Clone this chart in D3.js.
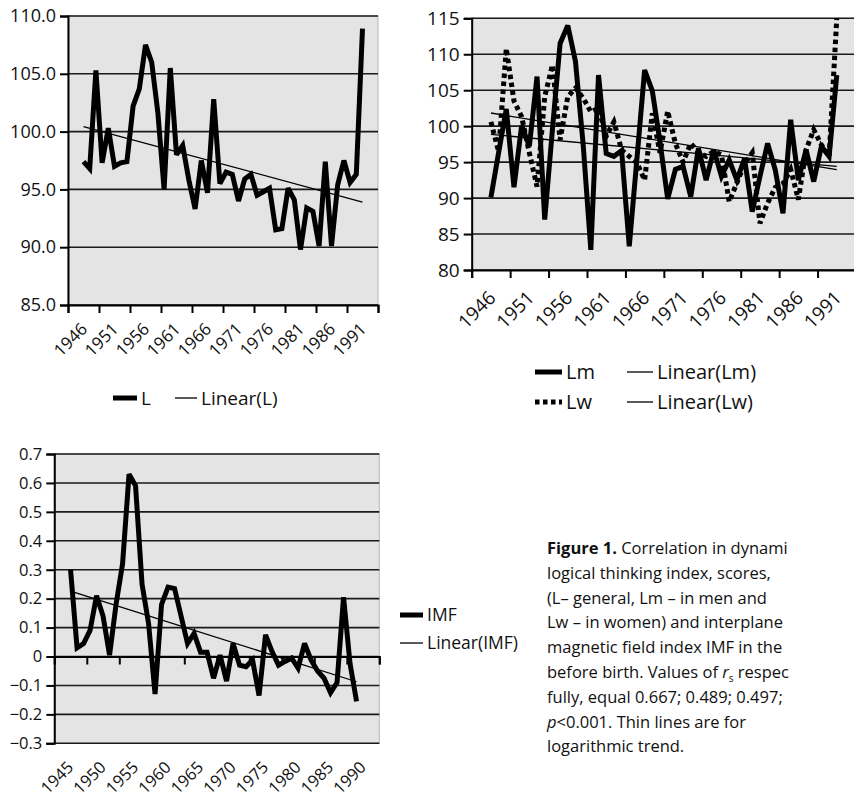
<!DOCTYPE html>
<html>
<head>
<meta charset="utf-8">
<script src="https://cdn.jsdelivr.net/npm/d3@7"></script>
<style>
  body { margin: 0; background: #fff; }
  svg { font-family: "Open Sans", "Noto Sans", sans-serif; }
</style>
</head>
<body>
<div id="fig"></div>
<script>
// years 1946..1991 for L, Lm, Lw
var yearsL = [1946,1947,1948,1949,1950,1951,1952,1953,1954,1955,1956,1957,1958,1959,1960,
  1961,1962,1963,1964,1965,1966,1967,1968,1969,1970,1971,1972,1973,1974,1975,1976,1977,
  1978,1979,1980,1981,1982,1983,1984,1985,1986,1987,1988,1989,1990,1991];

var valuesL = [97.4,96.8,105.3,97.3,100.3,97.0,97.3,97.4,102.2,103.7,107.5,106.0,101.6,95.0,105.5,
  98.0,98.8,95.8,93.3,97.5,94.7,102.8,95.5,96.5,96.3,94.0,95.9,96.3,94.5,94.8,95.1,91.5,
  91.6,95.1,94.1,89.8,93.4,93.1,90.1,97.4,90.1,95.4,97.5,95.6,96.3,108.9];

var valuesLm = [90.1,96.3,102.4,91.5,100.1,97.2,106.9,87.0,99.5,111.5,114.0,109.0,97.5,82.8,107.1,
  96.2,95.8,96.6,83.3,95.5,107.8,104.9,97.8,89.9,94.0,94.4,90.2,96.9,92.5,96.7,93.0,95.3,
  92.5,95.5,88.1,93.0,97.6,93.9,87.9,100.9,92.5,96.7,92.3,97.2,95.8,107.1];

var valuesLw = [100.6,96.5,110.8,103.5,101.3,96.3,91.6,104.1,108.5,98.1,104.1,105.3,103.9,102.0,102.5,
  98.6,100.6,96.7,95.8,94.9,92.5,101.8,96.3,102.1,97.6,95.0,97.6,96.3,95.8,96.5,96.0,89.5,
  92.1,94.8,96.3,86.5,89.3,91.5,92.0,94.0,89.8,96.7,99.5,97.4,95.8,115.0];

// years 1945..1989 for IMF
var yearsIMF = [1945,1946,1947,1948,1949,1950,1951,1952,1953,1954,1955,1956,1957,1958,1959,
  1960,1961,1962,1963,1964,1965,1966,1967,1968,1969,1970,1971,1972,1973,1974,1975,1976,
  1977,1978,1979,1980,1981,1982,1983,1984,1985,1986,1987,1988,1989];

var valuesIMF = [0.30,0.03,0.045,0.09,0.21,0.14,0.005,0.18,0.32,0.63,0.59,0.25,0.115,-0.13,0.18,
  0.24,0.235,0.14,0.045,0.08,0.015,0.015,-0.075,0.005,-0.085,0.045,-0.03,-0.035,-0.012,-0.135,
  0.075,0.017,-0.03,-0.017,-0.005,-0.04,0.045,-0.012,-0.05,-0.075,-0.125,-0.09,0.205,-0.025,-0.155];

var labels12 = ["1946","1951","1956","1961","1966","1971","1976","1981","1986","1991"];
var labels3 = ["1945","1950","1955","1960","1965","1970","1975","1980","1985","1990"];

var captionLines = [
  "Correlation in dynami",
  "logical thinking index, scores,",
  "(L\u2013 general, Lm \u2013 in men and",
  "Lw \u2013 in women) and interplane",
  "magnetic field index IMF in the",
  "before birth. Values of ",
  "fully, equal 0.667; 0.489; 0.497;",
  "<0.001. Thin lines are for",
  "logarithmic trend."
];

var svg = d3.select("#fig").append("svg")
  .attr("width", 854).attr("height", 801);

// simple least squares
function linFit(xs, ys) {
  var mx = d3.mean(xs), my = d3.mean(ys);
  var num = d3.sum(xs, (x, i) => (x - mx) * (ys[i] - my));
  var den = d3.sum(xs, x => (x - mx) * (x - mx));
  var b = num / den;
  return x => my + b * (x - mx);
}

function drawChart(c) {
  var g = svg.append("g");
  // 50 categories, ticks every 5
  var x = d3.scaleLinear().domain([c.firstCat - 0.5, c.firstCat + 49.5]).range([c.left, c.right]);
  var y = d3.scaleLinear().domain(c.yDomain).range([c.bottom, c.top]);

  g.append("rect")
    .attr("x", c.left).attr("y", c.top)
    .attr("width", c.right - c.left).attr("height", c.bottom - c.top)
    .attr("fill", "#e4e4e4").attr("stroke", "#b8b8b8").attr("stroke-width", 1);

  var yTicks = d3.range(c.yDomain[0], c.yDomain[1] + c.yStep / 2, c.yStep);
  g.selectAll(".grid").data(yTicks).enter().append("line")
    .attr("x1", c.left).attr("x2", c.right)
    .attr("y1", d => y(d)).attr("y2", d => y(d))
    .attr("stroke", "#1a1a1a").attr("stroke-width", 1.6);

  var yAxis = g.append("g").attr("transform", "translate(" + c.left + ",0)")
    .call(d3.axisLeft(y).tickValues(yTicks).tickFormat(c.yFormat).tickSize(8).tickPadding(4));
  yAxis.select(".domain").attr("stroke", "#000").attr("stroke-width", 2);
  yAxis.selectAll(".tick line").attr("stroke", "#000").attr("stroke-width", 2);
  yAxis.selectAll(".tick text").attr("font-size", c.yFont).attr("fill", "#111")
    .attr("font-family", "'Open Sans', sans-serif");

  var xTicks = d3.range(0, 11).map(k => c.firstCat - 0.5 + 5 * k);
  var axisY = c.axisAt !== undefined ? y(c.axisAt) : c.bottom;
  var xAxis = g.append("g").attr("transform", "translate(0," + axisY + ")")
    .call(d3.axisBottom(x).tickValues(xTicks).tickFormat("").tickSizeOuter(0).tickSize(8));
  xAxis.select(".domain").attr("stroke", "#000").attr("stroke-width", 2);
  xAxis.selectAll(".tick line").attr("stroke", "#000").attr("stroke-width", 2);

  g.selectAll(".xl").data(c.xLabels).enter().append("text")
    .attr("transform", (d, i) => "translate(" + (x(c.firstCat + 2 + 5 * i) + c.lblDx) + "," + (c.bottom + c.lblDy) + ") rotate(-45)")
    .attr("text-anchor", "end")
    .attr("font-size", c.xFont).attr("fill", "#111")
    .text(d => d);

  var line = d3.line().x(d => x(d[0])).y(d => y(d[1]));

  c.series.forEach(s => {
    var pts = c.years.map((yr, i) => [yr, s.values[i]]);
    g.append("path").datum(pts)
      .attr("d", line)
      .attr("fill", "none").attr("stroke", "#000")
      .attr("stroke-width", 5)
      .attr("stroke-linejoin", "miter").attr("stroke-miterlimit", 3)
      .attr("stroke-dasharray", s.dash ? "4.5 3.5" : null);
  });

  c.series.forEach(s => {
    var f = linFit(c.years, s.values);
    var x0 = c.years[0], x1 = c.years[c.years.length - 1];
    g.append("path").datum([[x0, f(x0)], [x1, f(x1)]])
      .attr("d", line)
      .attr("fill", "none").attr("stroke", "#000").attr("stroke-width", 1.3);
  });

  // legend
  c.legend.forEach(it => {
    g.append("line")
      .attr("x1", it.x).attr("x2", it.x + it.w)
      .attr("y1", it.y).attr("y2", it.y)
      .attr("stroke", "#000").attr("stroke-width", it.thick ? 5 : 1.3)
      .attr("stroke-dasharray", it.dash ? "4.5 3.5" : null);
    g.append("text")
      .attr("x", it.x + it.w + 4).attr("y", it.y)
      .attr("dy", "0.35em")
      .attr("font-size", c.legFont).attr("fill", "#111")
      .text(it.label);
  });
}

drawChart({
  left: 68, right: 378, top: 16, bottom: 305,
  firstCat: 1944, yDomain: [85, 110], yStep: 5, yFormat: d3.format(".1f"), yFont: 18,
  xLabels: labels12, xFont: 17, lblDx: 5, lblDy: 25,
  years: yearsL,
  series: [{ values: valuesL }],
  legFont: 19,
  legend: [
    { x: 113, y: 398, w: 24, thick: true, label: "L" },
    { x: 175, y: 398, w: 22, label: "Linear(L)" }
  ]
});

drawChart({
  left: 471.7, right: 856, top: 18.3, bottom: 270,
  firstCat: 1944, yDomain: [80, 115], yStep: 5, yFormat: d3.format("d"), yFont: 19,
  xLabels: labels12, xFont: 19, lblDx: 6, lblDy: 29,
  years: yearsL,
  series: [{ values: valuesLm }, { values: valuesLw, dash: true }],
  legFont: 20,
  legend: [
    { x: 535, y: 372, w: 27, thick: true, label: "Lm" },
    { x: 627, y: 372, w: 26, label: "Linear(Lm)" },
    { x: 535, y: 402, w: 27, thick: true, dash: true, label: "Lw" },
    { x: 627, y: 402, w: 26, label: "Linear(Lw)" }
  ]
});

drawChart({
  left: 54.3, right: 379.3, top: 454, bottom: 743.3,
  firstCat: 1943, yDomain: [-0.3, 0.7], yStep: 0.1, axisAt: 0,
  yFormat: d => (Math.abs(d) < 1e-9 ? "0" : d3.format(".1f")(d)), yFont: 16.5,
  xLabels: labels3, xFont: 16.5, lblDx: 4, lblDy: 25,
  years: yearsIMF,
  series: [{ values: valuesIMF }],
  legFont: 17.5,
  legend: [
    { x: 400, y: 615, w: 23, thick: true, label: "IMF" },
    { x: 400, y: 643, w: 23, label: "Linear(IMF)" }
  ]
});

// caption
var cap = svg.append("text").attr("font-size", 16.5).attr("fill", "#111")
  .attr("font-family", "'Open Sans', sans-serif");
var capY0 = 554, capDy = 24.8;
captionLines.forEach((t, i) => {
  var tl = cap.append("tspan").attr("x", 547).attr("y", capY0 + i * capDy);
  if (i === 0) {
    tl.append("tspan").attr("font-weight", "bold").text("Figure 1.");
    tl.append("tspan").text(" " + t);
  } else if (i === 5) {
    tl.append("tspan").text(t);
    tl.append("tspan").attr("font-style", "italic").text("r");
    tl.append("tspan").attr("font-size", 10).attr("dy", 4).text("s");
    tl.append("tspan").attr("dy", -4).text(" respec");
  } else if (i === 7) {
    tl.append("tspan").attr("font-style", "italic").text("p");
    tl.append("tspan").text(t);
  } else {
    tl.text(t);
  }
});
</script>
</body>
</html>
